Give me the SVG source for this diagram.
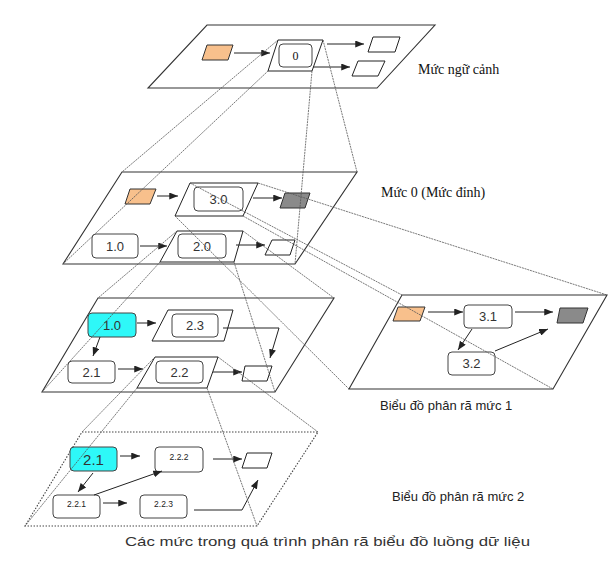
<svg xmlns="http://www.w3.org/2000/svg" width="615" height="568" viewBox="0 0 615 568">
<style>
.plane{fill:none;stroke:#333;stroke-width:1.1}
.plane2{fill:none;stroke:#444;stroke-width:1.1;stroke-dasharray:1.5 1.5}
.proc{fill:#fff;stroke:#222;stroke-width:1}
.box{fill:#fff;stroke:#444;stroke-width:1}
.cyan{fill:#2EF8F8;stroke:#444;stroke-width:1}
.org{fill:#F8C08C;stroke:#333;stroke-width:1}
.gry{fill:#8A8A8A;stroke:#333;stroke-width:1}
.wht{fill:#fff;stroke:#222;stroke-width:1}
.lbl{font-family:"Liberation Sans",Arial,sans-serif;font-size:13px;fill:#333;text-anchor:middle}
.sm{font-family:"Liberation Sans",Arial,sans-serif;font-size:8.5px;fill:#222;text-anchor:middle}
.serif{font-family:"Liberation Serif","Times New Roman",serif;font-size:14px;fill:#111}
.cap{font-family:"Liberation Sans",Arial,sans-serif;font-size:13px;fill:#222}
.proj{fill:none;stroke:#555;stroke-width:0.8;stroke-dasharray:2 0.8}
.conn{fill:none;stroke:#222;stroke-width:1;marker-end:url(#ah)}
</style>
<defs>
<marker id="ah" viewBox="0 0 10 8" refX="10" refY="4" markerWidth="9" markerHeight="7" markerUnits="userSpaceOnUse" orient="auto"><path d="M0,0 L10,4 L0,8z" fill="#222"/></marker>
</defs>
<rect width="615" height="568" fill="#fff"/>

<g id="planes">
<polygon class="plane" points="207,25 435,25 377,88 148,88"/>
<polygon class="plane" points="122,172 357,172 295,264 63,264"/>
<polygon class="plane" points="98,298 334,298 275,392 42,392"/>
<polygon class="plane" points="402,295 607,295 553,389 349,389"/>
<polygon class="plane2" points="82,432 318,432 257,526 25,526"/>
</g>

<!-- top level -->
<g id="top-src"><polygon class="org" points="207,45 233,45 228,60 202,60"/></g>
<g id="proc-0"><polygon class="proc" points="278,40 323,40 312,71 268,71"/><rect class="box" x="279" y="44" width="33" height="23" rx="4"/><text x="295.5" y="60" class="serif" style="font-size:12px" text-anchor="middle">0</text></g>
<g id="top-out1"><polygon class="wht" points="373,37 400,37 395,52 368,52"/></g>
<g id="top-out2"><polygon class="wht" points="358,61 385,61 378,76 352,76"/></g>

<!-- level 0 -->
<g id="l0-src"><polygon class="org" points="130,189 156,189 150,204 125,204"/></g>
<g id="proc-3-0"><polygon class="proc" points="190,183 258,183 243,216 175,216"/><rect class="box" x="194" y="187" width="49" height="24" rx="4"/><text x="218.5" y="204" class="lbl">3.0</text></g>
<g id="l0-sink"><polygon class="gry" points="285,193 310,193 305,208 280,208"/></g>
<g id="l0-1-0"><rect class="box" x="92" y="234" width="46" height="24" rx="4"/><text x="115" y="251" class="lbl">1.0</text></g>
<g id="proc-2-0"><polygon class="proc" points="177,231 243,231 234,262 160,262"/><rect class="box" x="178" y="234" width="48" height="24" rx="4"/><text x="202" y="251" class="lbl">2.0</text></g>
<g id="l0-out"><polygon class="wht" points="272,240 295,240 290,255 265,255"/></g>

<!-- level 1 left -->
<g id="l1-1-0"><rect class="cyan" x="88" y="313" width="48" height="24" rx="4"/><text x="112" y="330" class="lbl">1.0</text></g>
<g id="proc-2-3"><polygon class="proc" points="168,310 233,310 224,341 152,341"/><rect class="box" x="172" y="314" width="46" height="23" rx="4"/><text x="195" y="330" class="lbl">2.3</text></g>
<g id="l1-2-1"><rect class="box" x="68" y="361" width="47" height="22" rx="4"/><text x="91.5" y="377" class="lbl">2.1</text></g>
<g id="proc-2-2"><polygon class="proc" points="155,357 218,357 207,388 137,388"/><rect class="box" x="156" y="361" width="47" height="22" rx="4"/><text x="179.5" y="377" class="lbl">2.2</text></g>
<g id="l1-out"><polygon class="wht" points="245,366 272,366 267,381 242,381"/></g>

<!-- level 1 right -->
<g id="r-src"><polygon class="org" points="398,307 425,307 420,321 393,321"/></g>
<g id="r-3-1"><rect class="box" x="464" y="305" width="48" height="23" rx="4"/><text x="488" y="321" class="lbl">3.1</text></g>
<g id="r-sink"><polygon class="gry" points="560,308 588,308 583,323 557,323"/></g>
<g id="r-3-2"><rect class="box" x="448" y="352" width="47" height="23" rx="4"/><text x="471.5" y="368" class="lbl">3.2</text></g>

<!-- level 2 -->
<g id="l2-2-1"><rect class="cyan" x="70" y="447" width="47" height="24" rx="4"/><text x="93.5" y="465" class="lbl" style="font-size:15px">2.1</text></g>
<g id="l2-2-2-2"><rect class="box" x="155" y="447" width="48" height="25" rx="4"/><text x="179" y="460" class="sm">2.2.2</text></g>
<g id="l2-out"><polygon class="wht" points="247,453 272,453 267,468 242,468"/></g>
<g id="l2-2-2-1"><rect class="box" x="53" y="495" width="47" height="23" rx="4"/><text x="76.5" y="507" class="sm">2.2.1</text></g>
<g id="l2-2-2-3"><rect class="box" x="140" y="495" width="47" height="23" rx="4"/><text x="163.5" y="507" class="sm">2.2.3</text></g>

<g id="connectors">
<line class="conn" x1="234" y1="53" x2="270" y2="53"/>
<line class="conn" x1="327" y1="44" x2="364" y2="44"/>
<line class="conn" x1="313" y1="67" x2="350" y2="67"/>
<line class="conn" x1="157" y1="196" x2="178" y2="196"/>
<line class="conn" x1="253" y1="198" x2="282" y2="198"/>
<line class="conn" x1="140" y1="246" x2="167" y2="246"/>
<line class="conn" x1="236" y1="245" x2="265" y2="245"/>
<line class="conn" x1="137" y1="323" x2="156" y2="323"/>
<polyline class="conn" points="223,328 279,328 270,358"/>
<line class="conn" x1="100" y1="337" x2="93" y2="356"/>
<line class="conn" x1="118" y1="369" x2="143" y2="369"/>
<line class="conn" x1="213" y1="372" x2="242" y2="372"/>
<line class="conn" x1="428" y1="312" x2="463" y2="312"/>
<line class="conn" x1="515" y1="312" x2="553" y2="312"/>
<line class="conn" x1="472" y1="329" x2="458" y2="350"/>
<line class="conn" x1="495" y1="351" x2="548" y2="329"/>
<line class="conn" x1="120" y1="456" x2="140" y2="456"/>
<line class="conn" x1="213" y1="459" x2="242" y2="459"/>
<line class="conn" x1="93" y1="473" x2="78" y2="492"/>
<line class="conn" x1="94" y1="495" x2="162" y2="471"/>
<line class="conn" x1="103" y1="503" x2="127" y2="503"/>
<polyline class="conn" points="194,510 242,510 258,480"/>
</g>

<g id="projections">
<line class="proj" x1="278" y1="40" x2="122" y2="172"/>
<line class="proj" x1="268" y1="71" x2="63" y2="264"/>
<line class="proj" x1="323" y1="40" x2="357" y2="172"/>
<line class="proj" x1="312" y1="71" x2="295" y2="264"/>
<line class="proj" x1="177" y1="231" x2="98" y2="298"/>
<line class="proj" x1="160" y1="262" x2="42" y2="392"/>
<line class="proj" x1="243" y1="231" x2="334" y2="298"/>
<line class="proj" x1="234" y1="262" x2="275" y2="392"/>
<line class="proj" x1="190" y1="183" x2="402" y2="295"/>
<line class="proj" x1="258" y1="183" x2="607" y2="295"/>
<line class="proj" x1="243" y1="216" x2="553" y2="389"/>
<line class="proj" x1="175" y1="216" x2="349" y2="389"/>
<line class="proj" x1="155" y1="357" x2="82" y2="432"/>
<line class="proj" x1="137" y1="388" x2="25" y2="526"/>
<line class="proj" x1="218" y1="357" x2="318" y2="432"/>
<line class="proj" x1="207" y1="388" x2="257" y2="526"/>
</g>

<g id="labels">
<text x="418" y="74" class="serif">Mức ngữ cảnh</text>
<text x="381" y="197" class="serif">Mức 0 (Mức đỉnh)</text>
<text x="380" y="410" class="cap">Biểu đồ phân rã mức 1</text>
<text x="392" y="501" class="cap">Biểu đồ phân rã mức 2</text>
<text x="125" y="546" class="cap" style="font-size:13px;fill:#333" textLength="405" lengthAdjust="spacingAndGlyphs">Các mức trong quá trình phân rã biểu đồ luồng dữ liệu</text>
</g>
</svg>
